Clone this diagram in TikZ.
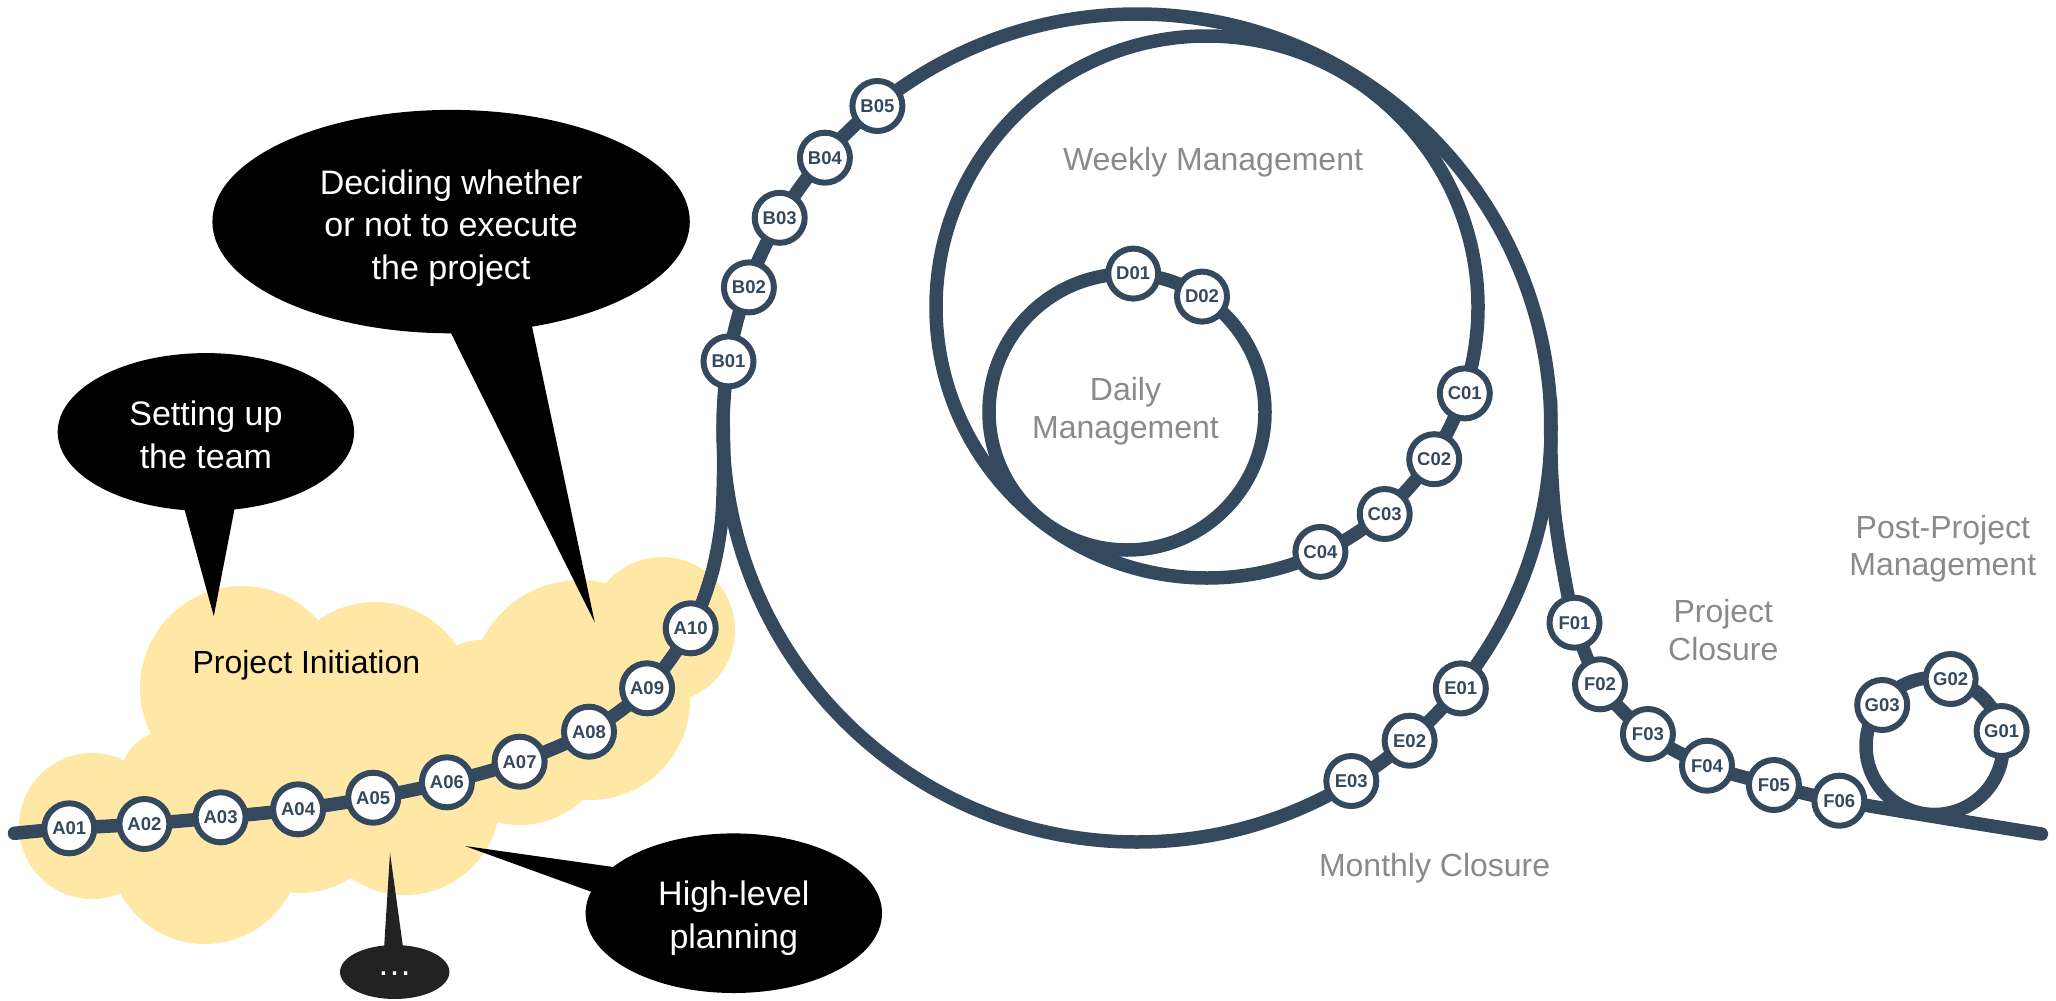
\documentclass[tikz,border=0pt]{standalone}
\usepackage{fontspec}
\setmainfont{Liberation Sans}
\usetikzlibrary{shapes.geometric,backgrounds}
\definecolor{trk}{HTML}{34495E}
\definecolor{cloudc}{HTML}{FFE8A6}
\definecolor{lbl}{HTML}{8A8A8A}
\definecolor{dotsc}{HTML}{222222}
\begin{document}
\begin{tikzpicture}[x=1pt,y=-1pt,
  track/.style={draw=trk, line width=13.5pt, line cap=round, line join=round},
  stn/.style={circle, draw=trk, fill=white, line width=6pt, minimum size=50pt, inner sep=0pt, text=trk, font=\bfseries\fontsize{18.5}{18.5}\selectfont},
  stage/.style={text=lbl, align=center, font=\fontsize{32}{37.5}\selectfont},
  bubble/.style={ellipse, fill=black, inner sep=0pt},
  bubbletext/.style={text=white, align=center, font=\fontsize{34}{42.5}\selectfont},
  tail/.style={fill=black}
]
\useasboundingbox (0,0) rectangle (2056,1001);

% ---------- stations ----------
\node[stn] (A01) at (69.3,828.3) {A01};
\node[stn] (A02) at (144.4,824) {A02};
\node[stn] (A03) at (220.6,817.3) {A03};
\node[stn] (A04) at (298.1,809.3) {A04};
\node[stn] (A05) at (373.2,797.7) {A05};
\node[stn] (A06) at (446.9,782.3) {A06};
\node[stn] (A07) at (519.6,761.7) {A07};
\node[stn] (A08) at (589,731.7) {A08};
\node[stn] (A09) at (647.1,688.3) {A09};
\node[stn] (A10) at (690.7,628.3) {A10};
\node[stn] (B01) at (728.5,361.4) {B01};
\node[stn] (B02) at (748.9,287.4) {B02};
\node[stn] (B03) at (779.7,217.8) {B03};
\node[stn] (B04) at (824.9,157.7) {B04};
\node[stn] (B05) at (877.4,106) {B05};
\node[stn] (C01) at (1464.8,393.4) {C01};
\node[stn] (C02) at (1434.2,459.2) {C02};
\node[stn] (C03) at (1384.7,514) {C03};
\node[stn] (C04) at (1320.4,551.9) {C04};
\node[stn] (D01) at (1133.2,273.6) {D01};
\node[stn] (D02) at (1202,296.6) {D02};
\node[stn] (E01) at (1460.8,688.4) {E01};
\node[stn] (E02) at (1409.6,740.7) {E02};
\node[stn] (E03) at (1351.3,781) {E03};
\node[stn] (F01) at (1574.5,622.7) {F01};
\node[stn] (F02) at (1600,684.3) {F02};
\node[stn] (F03) at (1647.9,734) {F03};
\node[stn] (F04) at (1707,765.7) {F04};
\node[stn] (F05) at (1773.9,785) {F05};
\node[stn] (F06) at (1839.3,800.7) {F06};
\node[stn] (G01) at (2001.6,731) {G01};
\node[stn] (G02) at (1950.6,679) {G02};
\node[stn] (G03) at (1882.2,705) {G03};

% ---------- helper coordinates ----------
\coordinate (start) at (14.5,833.3);
\coordinate (aUp1) at (711.5,574.7);
\coordinate (aUp2) at (721.3,523.6);
\coordinate (aUp3) at (723.6,470);
\coordinate (aJoin) at (723.2,425);
\coordinate (mC) at (1137,428);
\coordinate (wC) at (1207,307);
\coordinate (dC) at (1127,412);
\coordinate (gC) at (1934.5,746);
\coordinate (fOut0) at (1550.5,400);
\coordinate (fOut1) at (1551.2,463);
\coordinate (fOut2) at (1554.6,513);
\coordinate (fOut3) at (1562,563);
\coordinate (fEnd) at (2041.4,834);

\begin{scope}[on background layer]
  % cloud
  \begin{scope}[fill=cloudc]
    \fill (92,826) circle[radius=73];
    \fill (205,848) circle[radius=96];
    \fill (300,800) circle[radius=93];
    \fill (405,800) circle[radius=95];
    \fill (520,735) circle[radius=90];
    \fill (590,700) circle[radius=100];
    \fill (662,630) circle[radius=73];
    \fill (580,690) circle[radius=110];
    \fill (480,690) circle[radius=50];
    \fill (375,700) circle[radius=98];
    \fill (242,688) circle[radius=102];
    \fill (170,780) circle[radius=50];
    \fill (92,800) -- (150,760) -- (245,683) -- (375,700) -- (580,690) -- (662,640)
          -- (680,680) -- (590,760) -- (405,830) -- (205,860) -- (92,845) -- cycle;
  \end{scope}
  % tracks
  \draw[track] plot[smooth, tension=0.5] coordinates {(start) (A01.center) (A02.center) (A03.center) (A04.center) (A05.center) (A06.center) (A07.center) (A08.center) (A09.center) (A10.center) (aUp1) (aUp2) (aUp3) (aJoin)};
  \draw[track] (mC) circle[radius=414];
  \draw[track] (wC) circle[radius=271];
  \draw[track] (dC) circle[radius=138];
  \draw[track] plot[smooth, tension=0.5] coordinates {(fOut0) (fOut1) (fOut2) (fOut3) (F01.center) (F02.center) (F03.center) (F04.center) (F05.center) (F06.center) (fEnd)};
  \draw[track] (gC) circle[radius=68.5];
\end{scope}

% ---------- stage labels ----------
\node[stage] (weekly) at (1213,162.6) {Weekly Management};
\node[stage] (daily) at (1125.5,411) {Daily\\Management};
\node[stage] (monthly) at (1434.6,868.5) {Monthly Closure};
\node[stage] (pclose) at (1723.3,630.3) {Project\\Closure};
\node[stage] (post) at (1942.8,548.5) {Post-Project\\Management};
\node[text=black, font=\fontsize{32}{37.5}\selectfont] (init) at (306.4,665.5) {Project Initiation};

% ---------- speech bubbles ----------
\node[bubble, minimum width=477.4pt, minimum height=223.4pt] (decide) at (451.1,221.6) {};
\node[bubbletext] (decideText) at (451.1,228) {Deciding whether\\or not to execute\\the project};
\coordinate (decideTip) at (594.8,622.6);
\fill[tail] (436.7,304.4) -- (decideTip) -- (526.3,299.5) -- cycle;

\node[bubble, minimum width=296.4pt, minimum height=157.8pt] (team) at (205.9,432) {};
\node[bubbletext] (teamText) at (205.9,435) {Setting up\\the team};
\coordinate (teamTip) at (213.8,616.2);
\fill[tail] (179.1,489.8) -- (teamTip) -- (238.2,489.8) -- cycle;

\node[bubble, minimum width=296.4pt, minimum height=159.6pt] (plan) at (733.8,913.2) {};
\node[bubbletext] (planText) at (733.8,918) {High-level\\planning};
\coordinate (planTip) at (465,846);
\fill[tail] (632.9,869.8) -- (planTip) -- (616.2,900.8) -- cycle;

\coordinate (moreTip) at (390,852.7);
\fill[dotsc] (383.7,954.2) -- (moreTip) -- (404,954.2) -- cycle;
\node[bubble, fill=dotsc, minimum width=109.4pt, minimum height=54pt] (more) at (394.7,972) {};
\node[text=white, font=\fontsize{35}{35}\selectfont, inner sep=0pt] (moreText) at (394.7,974) {…};

\end{tikzpicture}
\end{document}
